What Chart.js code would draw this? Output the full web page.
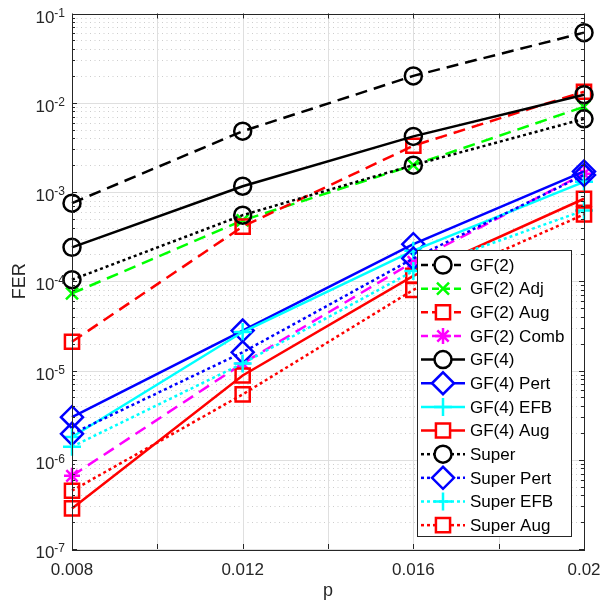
<!DOCTYPE html>
<html>
<head>
<meta charset="utf-8">
<script src="https://cdn.jsdelivr.net/npm/chart.js"></script>
<style>
    body { margin: 0; background: #fff; }
    canvas { display: block; }
</style>
</head>
<body>
<canvas id="ferChart" width="602" height="610"></canvas>
<script>
// x positions (p) and tick labels
const pValues = [0.008, 0.012, 0.016, 0.02];
const xGridTicks = [0.008, 0.010, 0.012, 0.014, 0.016, 0.018, 0.02];
const xTickValues = [0.008, 0.012, 0.016, 0.02];
const xTickLabels = ['0.008', '0.012', '0.016', '0.02'];
const yTickExponents = [-7, -6, -5, -4, -3, -2, -1];

// FER values, one array per curve
const gf2 = [7.5e-4, 4.8e-3, 2.0e-2, 6.1e-2];
const gf2Adj = [7.3e-5, 4.8e-4, 2.0e-3, 9.0e-3];
const gf2Aug = [2.1e-5, 4.1e-4, 3.3e-3, 1.33e-2];
const gf2Comb = [6.6e-7, 1.2e-5, 1.65e-4, 1.6e-3];
const gf4 = [2.4e-4, 1.16e-3, 4.2e-3, 1.23e-2];
const gf4Pert = [3.0e-6, 2.8e-5, 2.6e-4, 1.7e-3];
const gf4Efb = [1.8e-6, 2.7e-5, 2.2e-4, 1.3e-3];
const gf4Aug = [2.85e-7, 8.8e-6, 1.15e-4, 8.4e-4];
const superCode = [1.04e-4, 5.5e-4, 2.0e-3, 6.6e-3];
const superPert = [1.95e-6, 1.6e-5, 1.8e-4, 1.55e-3];
const superEfb = [1.4e-6, 1.2e-5, 1.3e-4, 6.2e-4];
const superAug = [4.5e-7, 5.4e-6, 8.0e-5, 5.6e-4];

const seriesNames = [
    'GF(2)', 'GF(2) Adj', 'GF(2) Aug', 'GF(2) Comb',
    'GF(4)', 'GF(4) Pert', 'GF(4) EFB', 'GF(4) Aug',
    'Super', 'Super Pert', 'Super EFB', 'Super Aug'
];
const seriesValues = [
    gf2, gf2Adj, gf2Aug, gf2Comb,
    gf4, gf4Pert, gf4Efb, gf4Aug,
    superCode, superPert, superEfb, superAug
];

// styles
const DASHED = [12, 7];
const DOTTED = [3, 3];
const SOLID = [];
const seriesColors = [
    '#000000', '#00ff00', '#ff0000', '#ff00ff',
    '#000000', '#0000ff', '#00ffff', '#ff0000',
    '#000000', '#0000ff', '#00ffff', '#ff0000'
];
const seriesDashes = [
    DASHED, DASHED, DASHED, DASHED,
    SOLID, SOLID, SOLID, SOLID,
    DOTTED, DOTTED, DOTTED, DOTTED
];
const markerStyles = {
    circle: { style: 'circle', radius: 8.5 },
    cross: { style: 'crossRot', radius: 8.5 },
    square: { style: 'rect', radius: 10 },
    star: { style: 'star', radius: 8 },
    diamond: { style: 'rectRot', radius: 11 },
    plus: { style: 'cross', radius: 9 }
};
const seriesMarkers = [
    'circle', 'cross', 'square', 'star',
    'circle', 'diamond', 'plus', 'square',
    'circle', 'diamond', 'plus', 'square'
];

const FONT = '"Liberation Sans", Arial, Helvetica, sans-serif';
const TEXT_COLOR = '#262626';

function buildDatasets() {
    const n = seriesNames.length;
    return seriesNames.map((name, i) => {
        const marker = markerStyles[seriesMarkers[i]];
        return {
            label: name,
            data: pValues.map((p, k) => ({ x: p, y: seriesValues[i][k] })),
            borderColor: seriesColors[i],
            backgroundColor: 'rgba(0,0,0,0)',
            borderWidth: 2.5,
            borderDash: seriesDashes[i],
            borderCapStyle: 'butt',
            pointStyle: marker.style,
            pointRadius: marker.radius,
            pointBorderWidth: 2.5,
            pointBorderColor: seriesColors[i],
            pointBackgroundColor: 'rgba(0,0,0,0)',
            fill: false,
            tension: 0,
            clip: false,
            order: n - i
        };
    });
}

function drawLine(ctx, x1, y1, x2, y2) {
    ctx.beginPath();
    ctx.moveTo(x1, y1);
    ctx.lineTo(x2, y2);
    ctx.stroke();
}

const matlabAxes = {
    id: 'matlabAxes',
    beforeDatasetsDraw(chart) {
        const { ctx, chartArea: a, scales: { x, y } } = chart;
        ctx.save();
        ctx.lineWidth = 1;

        // minor grid, dotted
        ctx.strokeStyle = '#cdcdcd';
        ctx.setLineDash([1, 3.5]);
        yTickExponents.slice(0, -1).forEach(e => {
            for (let m = 2; m <= 9; m++) {
                const py = Math.round(y.getPixelForValue(m * Math.pow(10, e))) + 0.5;
                drawLine(ctx, a.left, py, a.right, py);
            }
        });

        // major grid
        ctx.setLineDash([]);
        ctx.strokeStyle = '#dfdfdf';
        yTickExponents.forEach(e => {
            const py = Math.round(y.getPixelForValue(Math.pow(10, e))) + 0.5;
            drawLine(ctx, a.left, py, a.right, py);
        });
        xGridTicks.forEach(v => {
            const px = Math.round(x.getPixelForValue(v)) + 0.5;
            drawLine(ctx, px, a.top, px, a.bottom);
        });
        ctx.restore();
    },
    afterDatasetsDraw(chart) {
        const { ctx, chartArea: a, scales: { x, y } } = chart;
        ctx.save();

        // axes box and inward ticks
        ctx.strokeStyle = TEXT_COLOR;
        ctx.lineWidth = 1;
        ctx.strokeRect(Math.round(a.left) + 0.5, Math.round(a.top) + 0.5,
            Math.round(a.right - a.left), Math.round(a.bottom - a.top));
        xGridTicks.forEach(v => {
            const px = Math.round(x.getPixelForValue(v)) + 0.5;
            drawLine(ctx, px, a.bottom, px, a.bottom - 5);
            drawLine(ctx, px, a.top, px, a.top + 5);
        });
        yTickExponents.forEach((e, idx) => {
            const py = Math.round(y.getPixelForValue(Math.pow(10, e))) + 0.5;
            drawLine(ctx, a.left, py, a.left + 5, py);
            drawLine(ctx, a.right, py, a.right - 5, py);
            if (idx === yTickExponents.length - 1) return;
            for (let m = 2; m <= 9; m++) {
                const pm = Math.round(y.getPixelForValue(m * Math.pow(10, e))) + 0.5;
                drawLine(ctx, a.left, pm, a.left + 3, pm);
                drawLine(ctx, a.right, pm, a.right - 3, pm);
            }
        });

        // tick labels
        ctx.fillStyle = TEXT_COLOR;
        ctx.font = '17px ' + FONT;
        ctx.textAlign = 'center';
        ctx.textBaseline = 'alphabetic';
        xTickValues.forEach((v, i) => {
            ctx.fillText(xTickLabels[i], x.getPixelForValue(v), a.bottom + 26);
        });
        yTickExponents.forEach(e => {
            const py = y.getPixelForValue(Math.pow(10, e));
            const exp = String(e);
            ctx.textAlign = 'right';
            ctx.font = '12px ' + FONT;
            ctx.fillText(exp, a.left - 7, py + 3);
            const w = ctx.measureText(exp).width;
            ctx.font = '17px ' + FONT;
            ctx.fillText('10', a.left - 7 - w, py + 9);
        });

        // axis titles
        ctx.font = '18px ' + FONT;
        ctx.textAlign = 'center';
        ctx.fillText('p', (a.left + a.right) / 2, a.bottom + 47);
        ctx.save();
        ctx.translate(25, (a.top + a.bottom) / 2);
        ctx.rotate(-Math.PI / 2);
        ctx.fillText('FER', 0, 0);
        ctx.restore();

        // legend
        const box = { left: 417.5, top: 250.5, width: 154, height: 286 };
        ctx.fillStyle = '#ffffff';
        ctx.fillRect(box.left, box.top, box.width, box.height);
        ctx.strokeStyle = TEXT_COLOR;
        ctx.lineWidth = 1;
        ctx.strokeRect(box.left, box.top, box.width, box.height);
        const rowH = 23.65;
        seriesNames.forEach((name, i) => {
            const cy = 265 + i * rowH;
            const marker = markerStyles[seriesMarkers[i]];
            ctx.strokeStyle = seriesColors[i];
            ctx.lineWidth = 2.5;
            ctx.setLineDash(seriesDashes[i] === DASHED ? [7, 4] : seriesDashes[i]);
            drawLine(ctx, 421, cy, 465, cy);
            ctx.setLineDash([]);
            ctx.fillStyle = '#ffffff';
            Chart.helpers.drawPoint(ctx, {
                pointStyle: marker.style,
                radius: marker.radius,
                rotation: 0,
                borderWidth: 2.5
            }, 443, cy);
            ctx.fillStyle = '#000000';
            ctx.font = '17px ' + FONT;
            ctx.textAlign = 'left';
            ctx.textBaseline = 'middle';
            ctx.fillText(name, 470, cy + 1);
        });
        ctx.restore();
    }
};

document.addEventListener('DOMContentLoaded', () => {
    const ctx = document.getElementById('ferChart').getContext('2d');
    new Chart(ctx, {
        type: 'line',
        data: { datasets: buildDatasets() },
        options: {
            responsive: false,
            animation: false,
            devicePixelRatio: 1,
            events: [],
            layout: { padding: { top: 13, right: 18, left: 0, bottom: 0 } },
            plugins: {
                legend: { display: false },
                tooltip: { enabled: false }
            },
            scales: {
                x: {
                    type: 'linear',
                    min: 0.008,
                    max: 0.02,
                    grid: { display: false },
                    border: { display: false },
                    ticks: { display: false },
                    afterFit: s => { s.height = 61; }
                },
                y: {
                    type: 'logarithmic',
                    min: 1e-7,
                    max: 1e-1,
                    grid: { display: false },
                    border: { display: false },
                    ticks: { display: false },
                    afterFit: s => { s.width = 72; }
                }
            }
        },
        plugins: [matlabAxes]
    });
});
</script>
</body>
</html>
